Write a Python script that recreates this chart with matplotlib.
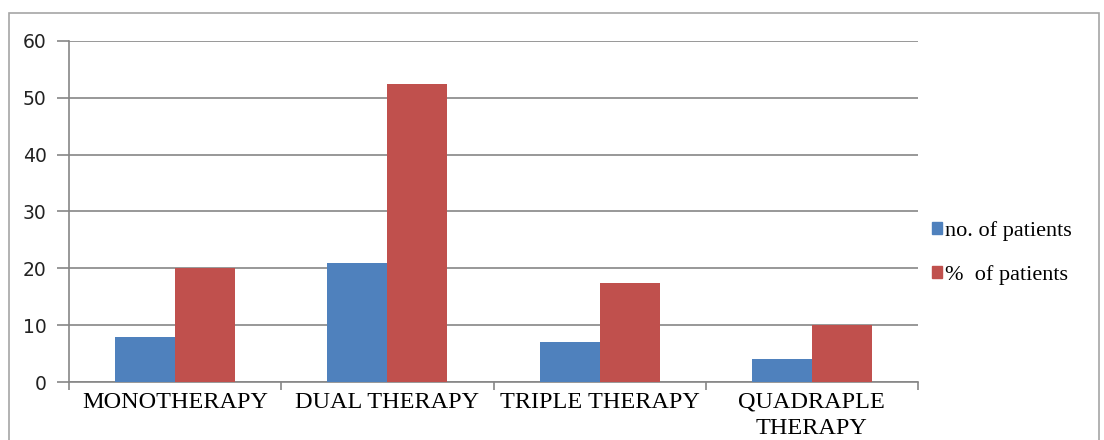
import matplotlib
matplotlib.use("Agg")
import matplotlib.pyplot as plt
from matplotlib.patches import Rectangle, Patch
import numpy as np

categories = ["MONOTHERAPY", "DUAL THERAPY", "TRIPLE THERAPY", "QUADRAPLE\nTHERAPY"]
no_of_patients = [8, 21, 7, 4]
pct_of_patients = [20, 52.5, 17.5, 10]
series_names = ["no. of patients", "%  of patients"]
yticks = [0, 10, 20, 30, 40, 50, 60]

blue = "#4F81BD"
red = "#C0504D"
gray = "#868686"

W, H = 1104, 440
fig = plt.figure(figsize=(W / 100, H / 100), dpi=100)
fig.patches.append(Rectangle((9 / W, -0.1), (1099 - 9) / W, 1.1 - 13 / H,
                             transform=fig.transFigure, fill=False,
                             edgecolor="#A6A6A6", linewidth=1.2))

ax = fig.add_axes([69 / W, 1 - 382 / H, (918 - 69) / W, (382 - 41) / H])
x = np.arange(len(categories))
bw = 0.283
ax.bar(x - bw / 2, no_of_patients, bw, color=blue, label=series_names[0], zorder=3)
ax.bar(x + bw / 2, pct_of_patients, bw, color=red, label=series_names[1], zorder=3)

ax.set_xlim(-0.5, len(categories) - 0.5)
ax.set_ylim(0, 60)
ax.set_yticks(yticks)
ax.set_yticklabels([str(v) for v in yticks], fontsize=13.5, family="DejaVu Sans", color="#222222")
ax.yaxis.grid(True, color=gray, linewidth=1.2, zorder=0)
ax.tick_params(axis="y", length=9, width=1.2, color=gray, pad=7)

ax.set_xticks(np.arange(len(categories) + 1) - 0.5)
ax.set_xticklabels([])
ax.set_xticks(x, minor=True)
ax.set_xticklabels(categories, minor=True, fontsize=17.5, family="Liberation Serif", linespacing=1.3)
ax.tick_params(axis="x", which="major", length=6, width=1.2, color=gray, direction="out")
ax.tick_params(axis="x", which="minor", length=0, pad=7)

for s in ["top", "right"]:
    ax.spines[s].set_visible(False)
for s in ["left", "bottom"]:
    ax.spines[s].set_color(gray)
    ax.spines[s].set_linewidth(1.2)

handles = [Patch(color=blue), Patch(color=red)]
leg = ax.legend(handles, series_names, loc="center left",
                bbox_to_anchor=(912 / W, 1 - 253 / H), bbox_transform=fig.transFigure,
                frameon=False, handlelength=0.45, handleheight=0.45, handletextpad=0.15,
                labelspacing=1.1, prop={"family": "Liberation Serif", "size": 16})

fig.savefig("out.png", dpi=100)
